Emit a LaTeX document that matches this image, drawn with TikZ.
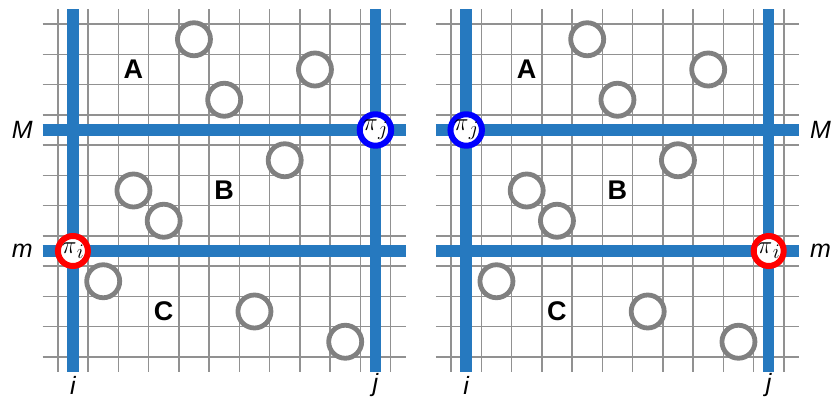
\documentclass[tikz,border=0pt]{standalone}
\usepackage{fontspec}
\setsansfont{Liberation Sans}
\definecolor{lineblue}{RGB}{38,121,191}
\definecolor{gridgray}{RGB}{145,145,145}
\definecolor{circgray}{RGB}{128,128,128}
\definecolor{ringred}{RGB}{255,0,0}
\definecolor{ringblue}{RGB}{0,0,255}
\newcommand{\pisub}[1]{$\pi$\hspace{0.3pt}\raisebox{-5pt}{\fontsize{21}{22}\selectfont$#1$}}
\begin{document}
\begin{tikzpicture}[x=30.25pt,y=30.25pt,
  gridline/.style={draw=gridgray, line width=1.4pt},
  blueline/.style={draw=lineblue, line width=11.5pt},
  ptcircle/.style={circle, draw=circgray, line width=4.8pt, fill=white, minimum size=33pt, inner sep=0pt},
  piring/.style={circle, line width=6pt, fill=white, minimum size=30pt, inner sep=0pt, font=\fontsize{26}{28}\selectfont},
  regionlabel/.style={font=\fontsize{27}{30}\selectfont\sffamily\bfseries, inner sep=0pt},
  axislabel/.style={font=\fontsize{25}{28}\selectfont\sffamily\itshape, inner sep=0pt}
]
\useasboundingbox (-1.4116,-0.8926) rectangle (26.1917,12.2975);
\foreach \p/\ox in {L/0, R/13} {
  \begin{scope}[shift={(\ox,0)}]
    \foreach \k in {0,...,11} {
      \draw[gridline] (\k+0.5,0) -- (\k+0.5,12);
      \draw[gridline] (0,\k+0.5) -- (12,\k+0.5);
    }
    \draw[blueline] (1,0) -- (1,12);
    \draw[blueline] (11,0) -- (11,12);
    \draw[blueline] (0,8) -- (12,8);
    \draw[blueline] (0,4) -- (12,4);
    \foreach \n/\cx/\cy in {1/5/11, 2/9/10, 3/6/9, 4/8/7, 5/3/6, 6/4/5, 7/2/3, 8/7/2, 9/10/1} {
      \node[ptcircle] (c\p\n) at (\cx,\cy) {};
    }
    \node[regionlabel] (A\p) at (3,10) {A};
    \node[regionlabel] (B\p) at (6,6) {B};
    \node[regionlabel] (C\p) at (4,2) {C};
    \node[axislabel, anchor=south] (i\p) at (1,-0.76) {i};
    \node[axislabel, anchor=south] (j\p) at (11,-0.82) {j};
  \end{scope}
}
\node[axislabel, anchor=east] (ML) at (-0.32,8) {M};
\node[axislabel, anchor=east] (mL) at (-0.32,4) {m};
\node[axislabel, anchor=west] (MR) at (25.36,8) {M};
\node[axislabel, anchor=west] (mR) at (25.36,4) {m};
\node[piring, draw=ringred] (piiL) at (1,4) {\pisub{i}};
\node[piring, draw=ringblue] (pijL) at (11,8) {\pisub{j}};
\node[piring, draw=ringblue] (pijR) at (14,8) {\pisub{j}};
\node[piring, draw=ringred] (piiR) at (24,4) {\pisub{i}};
\end{tikzpicture}
\end{document}
